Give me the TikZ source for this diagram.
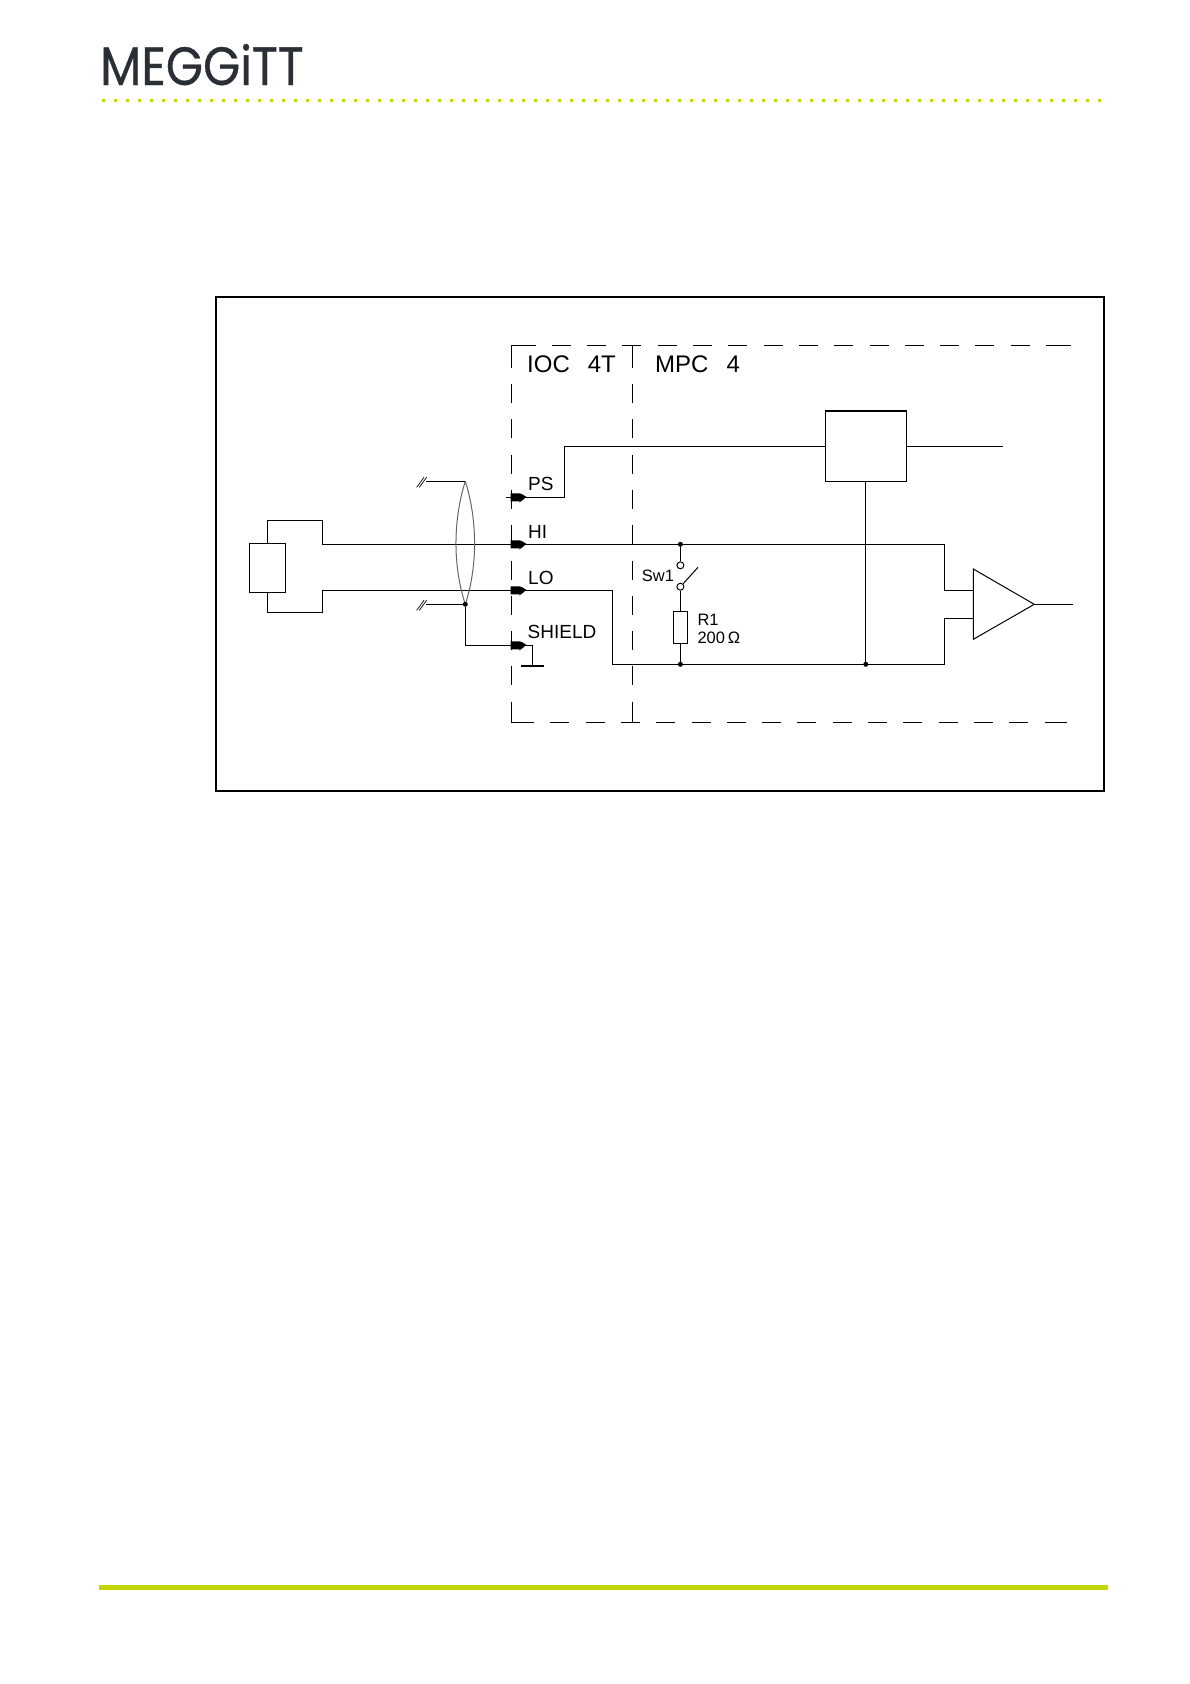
\documentclass[tikz,border=0pt]{standalone}
\usepackage{fontspec}
\setmainfont{Liberation Sans}
\newfontfamily\logofont[FakeBold=0.6]{Poppins}
\definecolor{meggittgreen}{HTML}{C4D600}
\definecolor{logoink}{HTML}{2A2E35}
\tikzset{
  wire/.style={line width=1.2pt, black},
  boxdash/.style={line width=1.2pt, dash pattern=on 19pt off 16.3pt},
  frameline/.style={line width=2.2pt},
  part/.style={draw, line width=1.2pt, inner sep=0pt, outer sep=0pt},
  wiredot/.style={circle, fill=black, inner sep=0pt, minimum size=5pt},
  swcontact/.style={circle, draw, line width=1pt, fill=white, inner sep=0pt, minimum size=7pt},
  biglabel/.style={anchor=base west, inner sep=0pt, font=\fontsize{24}{24}\selectfont},
  pinlabel/.style={anchor=base west, inner sep=0pt, font=\fontsize{19}{19}\selectfont},
  smalllabel/.style={anchor=base west, inner sep=0pt, font=\fontsize{16.5}{16.5}\selectfont},
}
\begin{document}
\begin{tikzpicture}[x=1pt, y=-1pt]
        \useasboundingbox (0,0) rectangle (1190,1684);

        % Page header and footer
        \node (logo) [anchor=base west, inner sep=0pt, logoink, font=\logofont\fontsize{54}{54}\selectfont] at (100,85) {\scalebox{0.885}[1]{MEGGiTT}};
        \draw[meggittgreen, line width=2.6pt, dash pattern=on 3.2pt off 8.8pt] (102,100.7) -- (1106,100.7);
        \fill[meggittgreen] (99,1584.7) rectangle (1108,1590);

        % Outer frame
        \draw[frameline] (216,297) rectangle (1104,790.7);

        % Corners of the dashed boxes
        \coordinate (TL) at (511.7,345.3);
        \coordinate (TM) at (632.3,345.3);
        \coordinate (TR) at (1070.7,345.3);
        \coordinate (BL) at (511.7,722.3);
        \coordinate (BM) at (632.3,722.3);
        \coordinate (BR) at (1066.7,722.3);

        % Dashed boxes
        \draw[boxdash] (516.5,345.3) -- (TR);
        \draw[boxdash] (515,722.3) -- (BR);
        \draw[boxdash] (511.7,348.7) -- (BL);
        \draw[boxdash] (632.3,348.7) -- (BM);
        \draw[wire] (516.5,345.3) -- (TL) -- (511.7,348.7);
        \draw[wire] (515,722.3) -- (BL) -- (511.7,720);
        \draw[wire] (TM) -- (632.3,348.7);
        \draw[wire] (BM) -- (632.3,720);
        \draw[wire] (1065,345.3) -- (TR);
        \draw[wire] (1063,722.3) -- (BR);

        % Box titles
        \node (ioc) [biglabel] at (527,372) {IOC\hspace{18pt}4T};
        \node (mpc) [biglabel] at (655,372) {MPC\hspace{18pt}4};

        % Parts
        \node (sensor) [part, minimum width=36.4pt, minimum height=49pt] at (267.5,567.8) {};
        \node (block) [part, minimum width=81pt, minimum height=70.3pt] at (865.8,446.2) {};
        \node (R1) [part, minimum width=14.4pt, minimum height=32.4pt] at (680.4,627.5) {};
        \node (swA) [swcontact] at (680.4,565.3) {};
        \node (swB) [swcontact] at (680.4,586.7) {};
        \node (dotHI) [wiredot] at (680.4,544.3) {};
        \node (dotR) [wiredot] at (680.4,664.3) {};
        \node (dotBlock) [wiredot] at (865.8,664.3) {};
        \node (dotShield) [wiredot] at (465.3,604.3) {};

        % Amplifier
        \coordinate (ampT) at (973.3,569);
        \coordinate (ampB) at (973.3,639.3);
        \coordinate (ampO) at (1034.3,604.3);
        \coordinate (ampP) at (973.3,590.3);
        \coordinate (ampN) at (973.3,618.3);
        \draw[line width=1pt, line join=miter] (ampT) -- (ampO) -- (ampB) -- cycle;
        \coordinate (out) at (1072.7,604.3);
        \draw[wire] (ampO) -- (out);

        % Terminals
        \coordinate (pinPS) at (510.7,497.3);
        \coordinate (pinHI) at (510.7,544.3);
        \coordinate (pinLO) at (510.7,590.3);
        \coordinate (pinSH) at (510.7,645.3);
        \foreach \p in {pinPS,pinHI,pinLO,pinSH}
            \fill (\p) ++(0,-4) -- ++(9,0) .. controls +(3,0.5) and +(5,2.5) .. ++(6,4) .. controls +(-1,1.5) and +(-3,3.5) .. ++(-6,4) -- ++(-9,0) -- cycle;
        \draw[wire] (505.7,497.3) -- (pinPS);

        % Wires
        \draw[wire] (pinPS) -- (564.3,497.3) -- (564.3,446.3) -- (block.west |- 0,446.3);
        \draw[wire] (block.east |- 0,446.3) -- (1003.3,446.3);
        \draw[wire] (sensor.north -| 267.3,0) -- (267.3,520.3) -- (322.7,520.3) -- (322.7,544.3) -- (pinHI);
        \draw[wire] (sensor.south -| 267.3,0) -- (267.3,612.3) -- (322.7,612.3) -- (322.7,590.3) -- (pinLO);
        \draw[wire] (pinHI) -- (944.3,544.3) -- (944.3,590.3) -- (ampP);
        \draw[wire] (pinLO) -- (612.3,590.3) -- (612.3,664.3) -- (944.3,664.3) -- (944.3,618.3) -- (ampN);
        \draw[wire] (block.south) -- (dotBlock);
        \draw[wire] (dotHI) -- (swA);
        \draw[wire] (swB) -- (R1.north);
        \draw[wire] (R1.south) -- (dotR);
        \draw[line width=1pt] (swB) -- (698,567.3);

        % Cable with shield
        \coordinate (lensT) at (465.3,481.3);
        \coordinate (stubT) at (426,481.3);
        \coordinate (stubB) at (426,604.3);
        \draw[black!60, line width=1pt] (lensT) .. controls (453,520) and (453,565) .. (dotShield) .. controls (477.5,565) and (477.5,520) .. (lensT);
        \draw[wire] (lensT) -- (stubT);
        \draw[wire] (dotShield) -- (stubB);
        \draw[wire] (dotShield) -- (465.3,645.3) -- (pinSH);
        \foreach \s in {stubT,stubB} {
            \draw[line width=0.7pt] (\s) ++(-9.3,6) -- ++(7.3,-10);
            \draw[line width=0.7pt] (\s) ++(-6.7,6) -- ++(7.3,-10);
        }

        % Shield earth
        \coordinate (earth) at (532.3,666);
        \draw[wire] (pinSH) -- (532.3,645.3) -- (earth);
        \draw[wire] (520.7,666) -- (544,666);

        % Labels
        \node (lblPS) [pinlabel] at (528,490.7) {PS};
        \node (lblHI) [pinlabel] at (528,538.3) {HI};
        \node (lblLO) [pinlabel] at (528,584.3) {LO};
        \node (lblSH) [pinlabel] at (527.5,638.7) {SHIELD};
        \node (lblSw) [smalllabel] at (641.7,581) {Sw1};
        \node (lblR1) [smalllabel] at (697.3,625.7) {R1};
        \node (lblR) [smalllabel] at (697.3,643.3) {200$\,$Ω};

\end{tikzpicture}
\end{document}
